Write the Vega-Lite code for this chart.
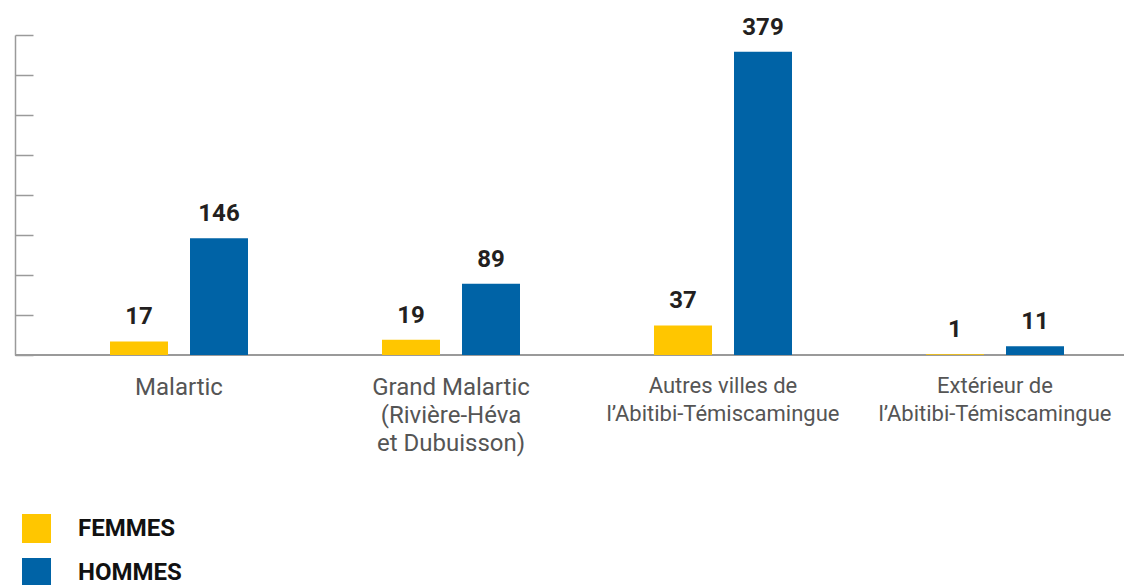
{
  "$schema": "https://vega.github.io/schema/vega-lite/v6.json",
  "autosize": {"type": "none"},
  "padding": {"left": 15, "top": 35, "right": 0, "bottom": 230},
  "width": 1109,
  "height": 320,
  "background": "white",
  "config": {"view": {"stroke": null}, "font": "Roboto"},
  "data": {
    "values": [
      {"region": "Malartic", "sexe": "FEMMES", "valeur": 17},
      {"region": "Malartic", "sexe": "HOMMES", "valeur": 146},
      {"region": "Grand Malartic|(Rivière-Héva|et Dubuisson)", "sexe": "FEMMES", "valeur": 19},
      {"region": "Grand Malartic|(Rivière-Héva|et Dubuisson)", "sexe": "HOMMES", "valeur": 89},
      {"region": "Autres villes de|l’Abitibi-Témiscamingue", "sexe": "FEMMES", "valeur": 37},
      {"region": "Autres villes de|l’Abitibi-Témiscamingue", "sexe": "HOMMES", "valeur": 379},
      {"region": "Extérieur de|l’Abitibi-Témiscamingue", "sexe": "FEMMES", "valeur": 1},
      {"region": "Extérieur de|l’Abitibi-Témiscamingue", "sexe": "HOMMES", "valeur": 11}
    ]
  },
  "encoding": {
    "x": {
      "field": "region", "type": "nominal", "sort": null,
      "scale": {"range": [28, 1116], "paddingInner": 0, "paddingOuter": 0},
      "axis": {
        "title": null, "domain": false, "ticks": false, "labelAngle": 0,
        "labelExpr": "split(datum.label, '|')", "labelLimit": 0,
        "labelFont": "Roboto",
        "labelFontSize": {"condition": {"test": "indexof(datum.value, 'Abitibi') >= 0", "value": 22}, "value": 24},
        "labelColor": "#555555",
        "labelPadding": 20, "labelLineHeight": 28, "labelBaseline": "top"
      }
    },
    "xOffset": {
      "field": "sexe", "type": "nominal",
      "scale": {"paddingInner": 0.275, "paddingOuter": 0.8375}
    },
    "y": {
      "field": "valeur", "type": "quantitative",
      "scale": {"domain": [0, 400], "nice": false, "zero": true},
      "axis": {
        "title": null, "labels": false, "grid": false,
        "values": [0, 50, 100, 150, 200, 250, 300, 350, 400],
        "tickSize": -18, "tickColor": "#9a9a9a", "tickWidth": 1.5,
        "domainColor": "#9a9a9a", "domainWidth": 1.5
      }
    }
  },
  "layer": [
    {
      "mark": {"type": "rule", "color": "#9a9a9a", "strokeWidth": 1.5},
      "encoding": {"y": {"datum": 0}, "x": null, "xOffset": null}
    },
    {
      "mark": {"type": "bar", "minBandSize": 0},
      "encoding": {
        "color": {
          "field": "sexe", "type": "nominal",
          "scale": {"domain": ["FEMMES", "HOMMES"], "range": ["#FFC600", "#0063A6"]},
          "legend": {
            "title": null, "orient": "none", "legendX": 7, "legendY": 479,
            "direction": "vertical", "symbolType": "square", "symbolSize": 841,
            "symbolStrokeWidth": 0, "symbolOpacity": 1,
            "labelFont": "Roboto", "labelFontSize": 24, "labelFontWeight": "bold",
            "labelColor": "#111111", "labelOffset": 27, "rowPadding": 15
          }
        }
      }
    },
    {
      "mark": {"type": "text", "baseline": "bottom", "dy": -12, "font": "Roboto", "fontSize": 24, "fontWeight": "bold", "color": "#231f20"},
      "encoding": {"text": {"field": "valeur", "type": "quantitative"}}
    }
  ]
}
